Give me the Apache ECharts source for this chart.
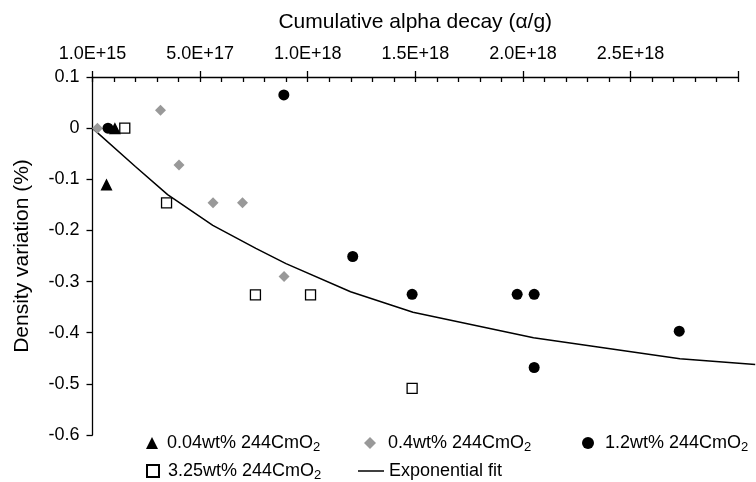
<html>
<head>
    <meta charset="utf-8">
    <script src="https://cdn.jsdelivr.net/npm/echarts@6/dist/echarts.min.js"></script>
    <style>
        html, body { margin: 0; padding: 0; background: #fff; }
        #main { width: 756px; height: 482px; }
    </style>
</head>
<body>
<div id="main"></div>
<script>
    var FONT = '"Liberation Sans", Arial, sans-serif';

    var seriesNames = ['0.04wt% 244CmO2', '0.4wt% 244CmO2', '1.2wt% 244CmO2', '3.25wt% 244CmO2', 'Exponential fit'];

    // cumulative alpha decay (alpha/g) vs density variation (%)
    var cm004X = [0, 1.05e17, 6.6e16];
    var cm004Y = [0, 0, -0.11];
    var cm04X = [2.4e16, 3.17e17, 4.03e17, 5.61e17, 6.98e17, 8.91e17];
    var cm04Y = [0, 0.035, -0.072, -0.146, -0.146, -0.29];
    var cm12X = [7.3e16, 8.9e17, 1.21e18, 1.486e18, 1.974e18, 2.053e18, 2.053e18, 2.727e18];
    var cm12Y = [0, 0.065, -0.251, -0.325, -0.325, -0.325, -0.468, -0.397];
    var cm325X = [1.51e17, 3.45e17, 7.58e17, 1.014e18, 1.486e18];
    var cm325Y = [0, -0.146, -0.326, -0.326, -0.509];
    var fitX = [0, 2.0e17, 3.5e17, 5.6e17, 7.6e17, 9.0e17, 1.2e18, 1.49e18, 2.05e18, 2.73e18, 3.08e18];
    var fitY = [0, -0.075, -0.13, -0.19, -0.235, -0.265, -0.32, -0.36, -0.41, -0.451, -0.462];

    var xMin = 1e15, xMax = 3e18, xStep = 5e17;
    var yMin = -0.6, yMax = 0.1, yStep = 0.1;

    // the fit line runs past the axis end to the right edge of the figure,
    // so it sits on a wider twin grid with the same scale
    var plotLeft = 92.5, plotRight = 18;
    var W = 756;
    var fitXMax = xMin + (xMax - xMin) * (W - plotLeft) / (W - plotLeft - plotRight);

    function pairs(xs, ys) {
        return xs.map(function (x, i) { return [x, ys[i]]; });
    }

    function legendAt(name, left, top, w, h, pad, icon) {
        var lg = {
            data: [name],
            left: left,
            top: top,
            itemWidth: w,
            itemHeight: h,
            selectedMode: false,
            formatter: function (n) {
                return n.replace(/O2$/, 'O{s|2}');
            },
            textStyle: {
                fontFamily: FONT,
                fontSize: 18,
                color: '#000',
                padding: [0, 0, 0, pad],
                rich: {
                    s: { fontFamily: FONT, fontSize: 13, color: '#000', padding: [9, 0, 0, 0] }
                }
            }
        };
        if (icon) {
            lg.icon = icon;
            lg.itemStyle = { color: '#000', borderWidth: 0 };
        }
        return lg;
    }

    var chart = echarts.init(document.getElementById('main'));
    var option = {
        backgroundColor: '#fff',
        animation: false,
        grid: [
            { left: plotLeft, right: plotRight, top: 77, bottom: 47 },
            { left: plotLeft, right: 0, top: 77, bottom: 47 }
        ],
        legend: [
            legendAt(seriesNames[0], 141, 429, 12, 12, 4),
            legendAt(seriesNames[1], 359, 429, 12, 12, 7),
            legendAt(seriesNames[2], 577, 429, 12, 12, 6),
            legendAt(seriesNames[3], 141, 457, 12, 12, 4),
            legendAt(seriesNames[4], 353, 457, 26, 1.5, 0, 'rect')
        ],
        xAxis: [
            {
                type: 'value',
                position: 'top',
                min: xMin,
                max: xMax,
                interval: xStep,
                name: 'Cumulative alpha decay (\u03b1/g)',
                nameLocation: 'middle',
                nameGap: 44,
                nameTextStyle: { fontFamily: FONT, fontSize: 21, color: '#000' },
                axisLine: { onZero: false, lineStyle: { color: '#000', width: 1.3 } },
                axisTick: { inside: true, length: 5, lineStyle: { color: '#000', width: 1.3 } },
                minorTick: { show: true, splitNumber: 5, length: 5, lineStyle: { color: '#000', width: 1.3 } },
                axisLabel: {
                    fontFamily: FONT,
                    fontSize: 18,
                    color: '#000',
                    margin: 14,
                    showMaxLabel: false,
                    formatter: function (v) { return v.toExponential(1).toUpperCase(); }
                },
                splitLine: { show: false }
            },
            {
                type: 'value',
                position: 'top',
                min: xMin,
                max: xMax,
                interval: xStep,
                axisLine: { show: false, onZero: false },
                axisTick: { inside: false, length: 6, lineStyle: { color: '#000', width: 1.3 } },
                axisLabel: { show: false },
                splitLine: { show: false }
            },
            {
                type: 'value',
                gridIndex: 1,
                min: xMin,
                max: fitXMax,
                show: false
            }
        ],
        yAxis: [
            {
                type: 'value',
                min: yMin,
                max: yMax,
                interval: yStep,
                name: 'Density variation (%)',
                nameLocation: 'middle',
                nameGap: 60,
                nameTextStyle: { fontFamily: FONT, fontSize: 21, color: '#000' },
                axisLine: { show: true, onZero: false, lineStyle: { color: '#000', width: 1.3 } },
                axisTick: { show: true, length: 6, lineStyle: { color: '#000', width: 1.3 } },
                axisLabel: {
                    fontFamily: FONT,
                    fontSize: 18,
                    color: '#000',
                    margin: 13,
                    formatter: function (v) {
                        return Math.abs(v) < 1e-9 ? '0' : v.toFixed(1);
                    }
                },
                splitLine: { show: false }
            },
            {
                type: 'value',
                gridIndex: 1,
                min: yMin,
                max: yMax,
                show: false
            }
        ],
        series: [
            {
                name: seriesNames[4],
                type: 'line',
                xAxisIndex: 2,
                yAxisIndex: 1,
                data: pairs(fitX, fitY),
                symbol: 'none',
                lineStyle: { color: '#000', width: 1.5 },
                itemStyle: { color: '#000' },
                z: 1
            },
            {
                name: seriesNames[1],
                type: 'scatter',
                data: pairs(cm04X, cm04Y),
                symbol: 'diamond',
                symbolSize: 11,
                itemStyle: { color: '#999', opacity: 1 },
                z: 2
            },
            {
                name: seriesNames[3],
                type: 'scatter',
                data: pairs(cm325X, cm325Y),
                symbol: 'rect',
                symbolSize: 10,
                itemStyle: { color: '#fff', borderColor: '#000', borderWidth: 1.3, opacity: 1 },
                z: 3
            },
            {
                name: seriesNames[2],
                type: 'scatter',
                data: pairs(cm12X, cm12Y),
                symbol: 'circle',
                symbolSize: 11,
                itemStyle: { color: '#000', opacity: 1 },
                z: 4
            },
            {
                name: seriesNames[0],
                type: 'scatter',
                data: pairs(cm004X, cm004Y),
                symbol: 'triangle',
                symbolSize: 12,
                itemStyle: { color: '#000', opacity: 1 },
                z: 5
            }
        ]
    };
    chart.setOption(option);
</script>
</body>
</html>
